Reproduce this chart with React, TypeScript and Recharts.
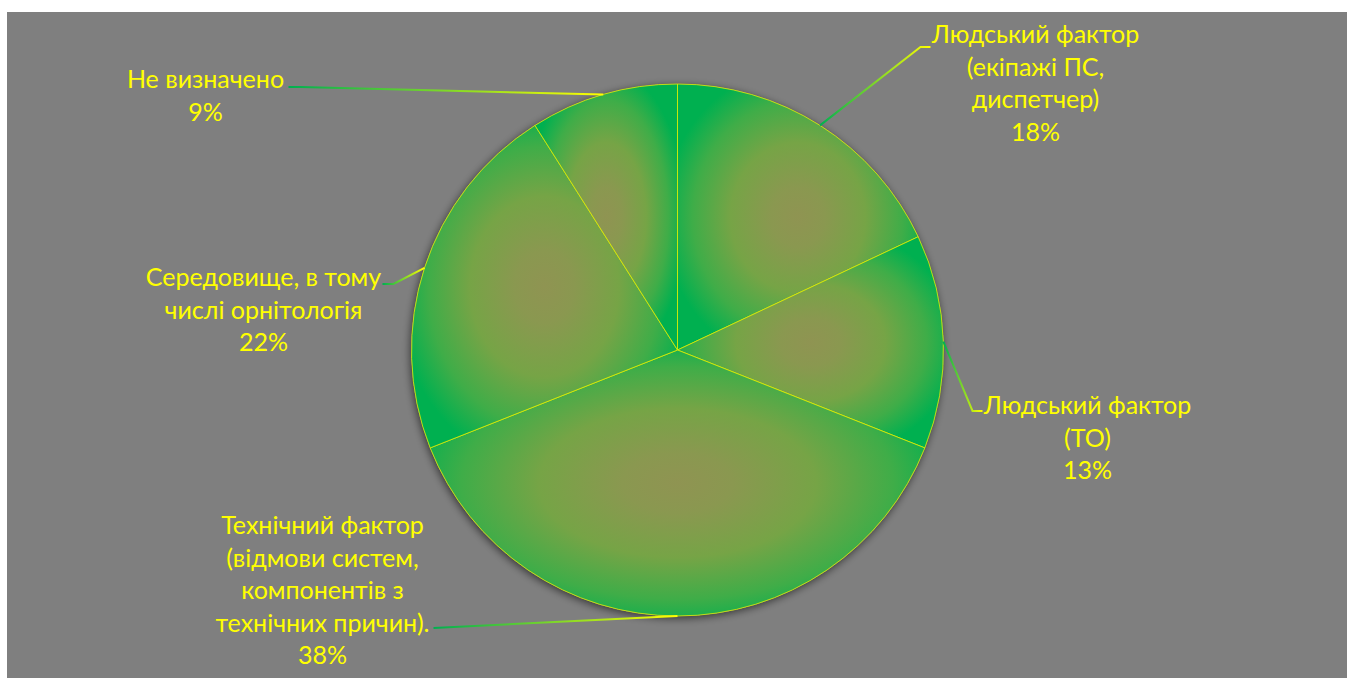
import React from "react";
import { PieChart, Pie, Cell } from "recharts";

// ---- data ----
const categories = [
  "Людський фактор (екіпажі ПС, диспетчер)",
  "Людський фактор (ТО)",
  "Технічний фактор (відмови систем, компонентів з технічних причин).",
  "Середовище, в тому числі орнітологія",
  "Не визначено",
];
const shares = [18, 13, 38, 22, 9];
const labelLines = [
  ["Людський фактор", "(екіпажі ПС,", "диспетчер)"],
  ["Людський фактор", "(ТО)"],
  ["Технічний фактор", "(відмови систем,", "компонентів з", "технічних причин)."],
  ["Середовище, в тому", "числі орнітологія"],
  ["Не визначено"],
];

// ---- label layout (offsets from pie centre, px) ----
const labelLayout = [
  { tx: 358, ty: -317, bx: 243, by: -303, ex: 253, ey: -303 },
  { tx: 410, ty: 54, bx: 295, by: 61, ex: 305, ey: 61 },
  { tx: -355, ty: 174, bx: -244, by: 278, ex: -244, ey: 278 },
  { tx: -414, ty: -74, bx: -284, by: -66, ex: -295, ey: -66 },
  { tx: -472, ty: -272, bx: -377, by: -263, ex: -389, ey: -263 },
];

const data = categories.map((name, i) => ({ name, value: shares[i] }));
const backdrop = [{ name: "all", value: 1 }];

const RAD = Math.PI / 180;
const LINE_H = 32.5;

const renderLabel = (props: any) => {
  const { cx, cy, midAngle, outerRadius, index, percent } = props;
  const lay = labelLayout[index];
  const sx = cx + outerRadius * Math.cos(-midAngle * RAD);
  const sy = cy + outerRadius * Math.sin(-midAngle * RAD);
  const lines = [...labelLines[index], `${Math.round(percent * 100)}%`];
  return (
    <g key={`lbl-${index}`}>
      <path
        d={`M${sx},${sy}L${cx + lay.bx},${cy + lay.by}L${cx + lay.ex},${cy + lay.ey}`}
        fill="none"
        stroke="url(#leaderGrad)"
        strokeWidth={2}
      />
      {lines.map((t, i) => (
        <text
          key={i}
          x={cx + lay.tx}
          y={cy + lay.ty + i * LINE_H}
          textAnchor="middle"
          dominantBaseline="central"
          fill="#FFFF00"
          fontFamily="Lato, 'Liberation Sans', sans-serif"
          fontSize={25}
        >
          {t}
        </text>
      ))}
    </g>
  );
};

export default function App() {
  return (
    <>
      <style>{"body{margin:0;overflow:hidden}"}</style>
      <div
        style={{
          position: "absolute",
          left: 7,
          top: 12,
          width: 1340,
          height: 666,
          background: "#7F7F7F",
        }}
      >
        <PieChart width={1340} height={666} margin={{ top: 0, right: 0, bottom: 0, left: 0 }}>
          <defs>
            <radialGradient id="sliceGrad" cx="50%" cy="50%" r="56%">
              <stop offset="0%" stopColor="#8F9452" />
              <stop offset="20%" stopColor="#8A9850" />
              <stop offset="50%" stopColor="#76A446" />
              <stop offset="78%" stopColor="#3FAD48" />
              <stop offset="100%" stopColor="#00B050" />
            </radialGradient>
            <linearGradient id="leaderGrad" x1="0" y1="0" x2="1" y2="0">
              <stop offset="0%" stopColor="#00B050" />
              <stop offset="100%" stopColor="#FFFF00" />
            </linearGradient>
            <filter id="pieShadow" x="-20%" y="-20%" width="140%" height="140%">
              <feDropShadow dx={-1} dy={2} stdDeviation={4} floodColor="#000" floodOpacity={0.6} />
            </filter>
          </defs>
          <Pie
            data={backdrop}
            dataKey="value"
            cx={670.5}
            cy={338}
            outerRadius={266}
            startAngle={90}
            endAngle={-270}
            stroke="none"
            fill="#7F7F7F"
            isAnimationActive={false}
            style={{ filter: "url(#pieShadow)" }}
            className="pie-shadow"
          />
          <Pie
            data={data}
            dataKey="value"
            nameKey="name"
            cx={670.5}
            cy={338}
            outerRadius={266}
            startAngle={90}
            endAngle={-270}
            stroke="#FFFF00"
            strokeWidth={1}
            label={renderLabel}
            labelLine={false}
            isAnimationActive={false}
          >
            {data.map((d, i) => (
              <Cell key={i} fill="url(#sliceGrad)" stroke="#E0F000" strokeWidth={0.8} />
            ))}
          </Pie>
        </PieChart>
      </div>
    </>
  );
}
